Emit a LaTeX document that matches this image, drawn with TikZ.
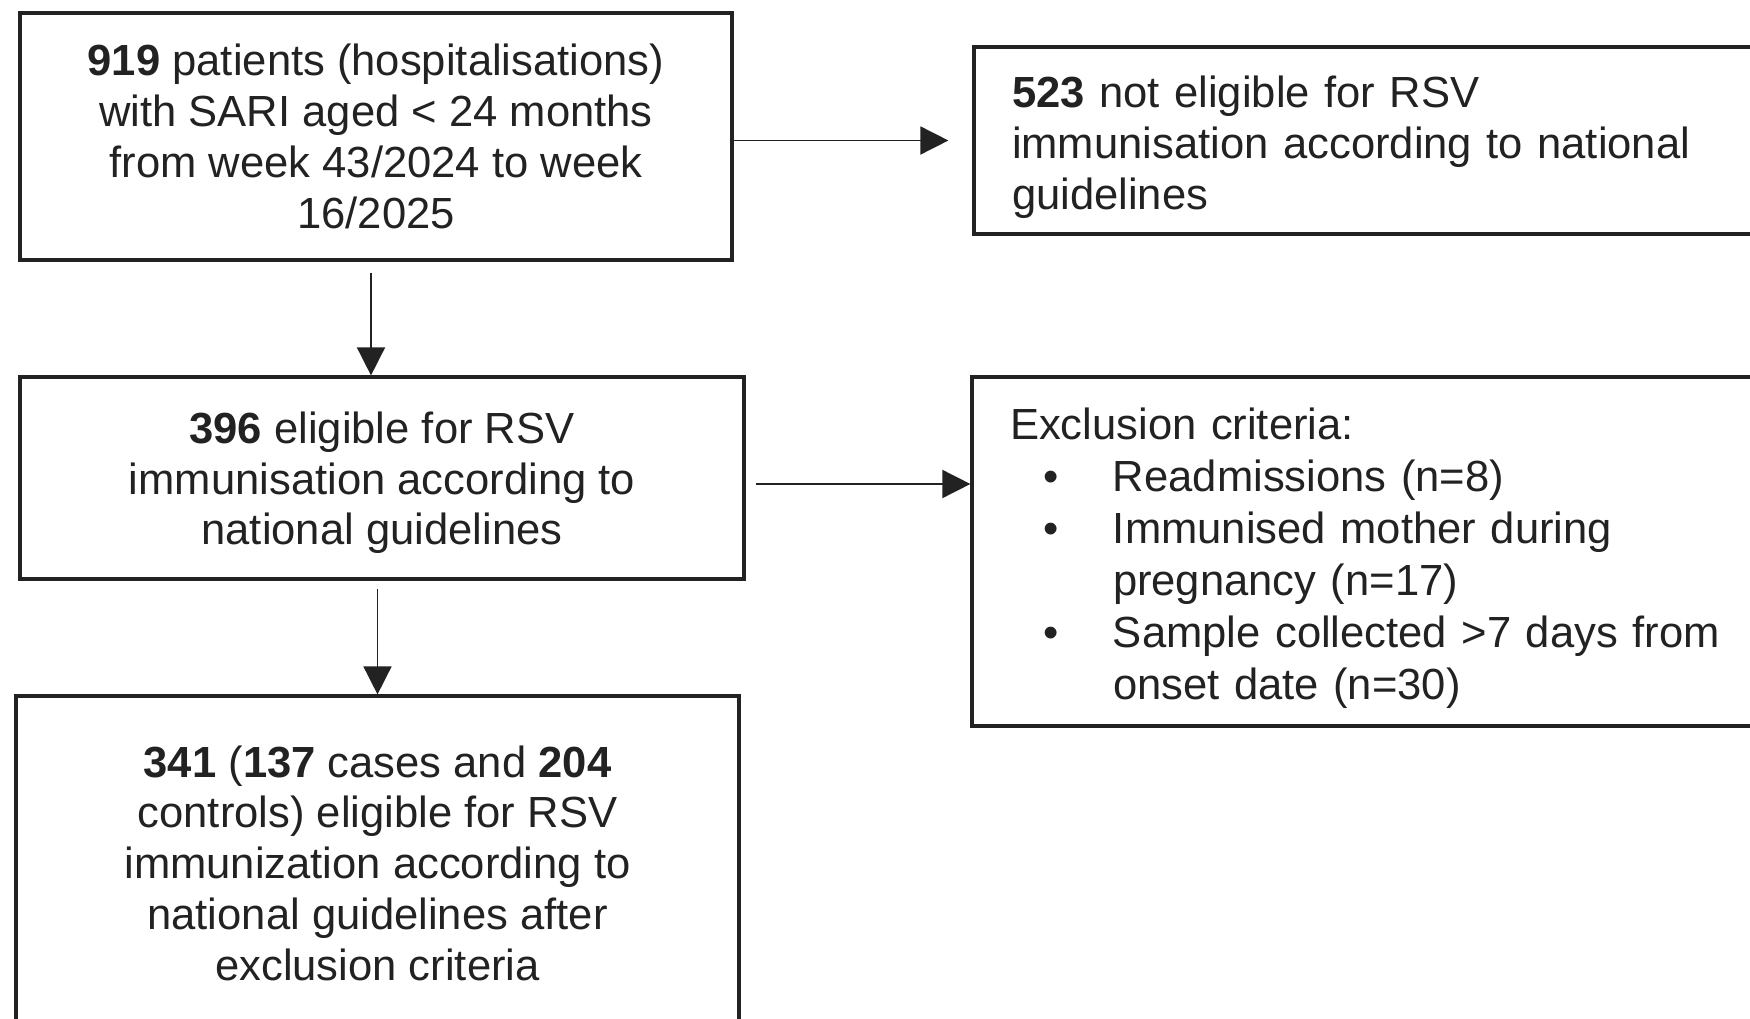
\documentclass[tikz,border=0pt]{standalone}
\usepackage{fontspec}
\setmainfont{Liberation Sans}
\usetikzlibrary{arrows.meta}

\definecolor{ink}{HTML}{222222}

\newcommand{\critem}{\hspace*{0.66cm}\makebox[0.32cm]{\textbullet}\hspace*{1.08cm}}
\newcommand{\crgap}{\hspace*{2.06cm}}
\newcommand{\topstrut}[1]{\rule{0pt}{#1}}

\tikzset{
    arr/.style={draw=ink, line width=0.9pt, -{Triangle[length=0.56cm, width=0.56cm]}}
}

\begin{document}
\begin{tikzpicture}
            \useasboundingbox (0,0) rectangle (35,-20.38);
            \clip (0,0) rectangle (35,-20.38);

            \begin{scope}[
                    every node/.style={draw=ink, text=ink, line width=1.8pt, inner sep=0pt,
                        font=\fontsize{24.8pt}{28.9pt}\selectfont}
                ]
                \node[minimum width=14.24cm, minimum height=4.94cm, align=center] (all) at (7.52,-2.73)
                    {\textbf{919} patients (hospitalisations)\\with SARI aged < 24 months\\from week 43/2024 to week\\16/2025};
                \node[minimum width=15.92cm, minimum height=3.74cm, text width=14.4cm, align=left] (notel) at (27.44,-2.81)
                    {\topstrut{25.5pt}\textbf{523} not eligible for RSV\\immunisation according to national\\guidelines};
                \node[minimum width=14.48cm, minimum height=4.04cm, align=center] (elig) at (7.64,-9.56)
                    {\topstrut{23.5pt}\textbf{396} eligible for RSV\\immunisation according to\\national guidelines};
                \node[minimum width=15.96cm, minimum height=6.98cm, text width=14.44cm, align=left,
                      font=\fontsize{24.8pt}{29.6pt}\selectfont] (excl) at (27.42,-11.03)
                    {\topstrut{25.5pt}Exclusion criteria:\\\critem Readmissions (n=8)\\\critem Immunised mother during\\\crgap pregnancy (n=17)\\\critem Sample collected >7 days from\\\crgap onset date (n=30)};
                \node[minimum width=14.46cm, minimum height=6.68cm, align=center] (fin) at (7.55,-17.26)
                    {\textbf{341} (\textbf{137} cases and \textbf{204}\\controls) eligible for RSV\\immunization according to\\national guidelines after\\exclusion criteria};
            \end{scope}

            \draw[arr] (all.east |- notel.west) -- ([xshift=-0.48cm]notel.west);
            \draw[arr, shorten <=0.22cm] ([xshift=-0.1cm]all.south) -- ([xshift=-0.1cm]all.south |- elig.north);
            \draw[arr, shorten <=0.2cm] ([yshift=-0.12cm]elig.east) -- ([yshift=-0.12cm]elig.east -| excl.west);
            \draw[arr, shorten <=0.16cm] (fin.north |- elig.south) -- (fin.north);

        \end{tikzpicture}
\end{document}
